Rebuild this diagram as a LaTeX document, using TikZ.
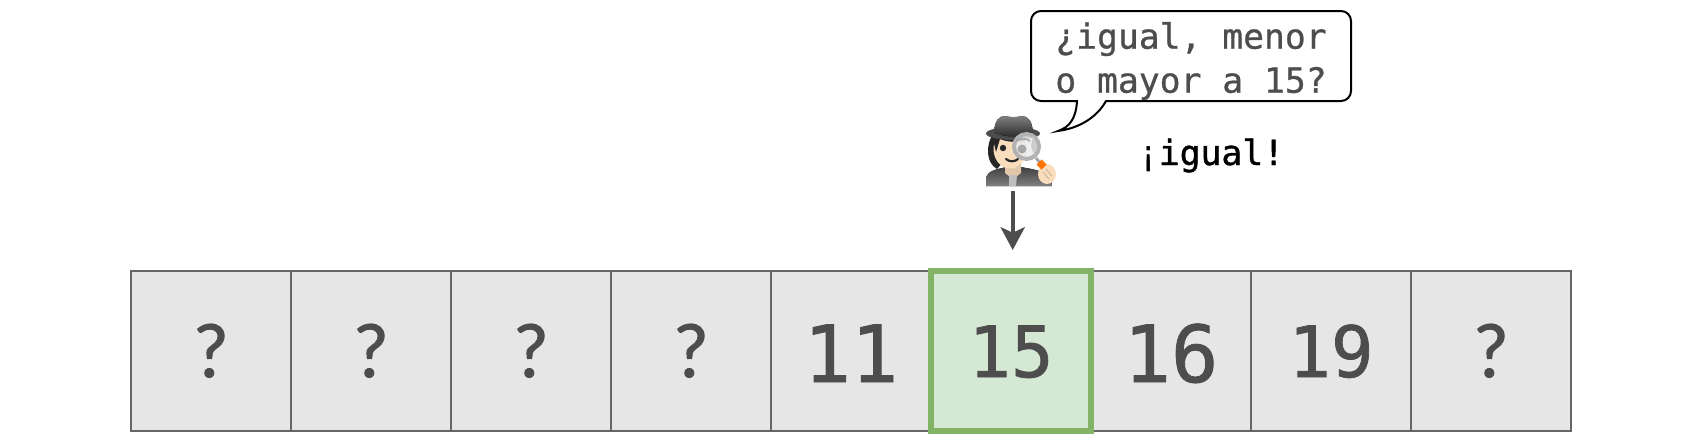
\documentclass[tikz,border=0pt]{standalone}
\usepackage{fontspec}
\setmonofont{DejaVu Sans Mono}
\newfontfamily\heavymono[FakeBold=1.1]{DejaVu Sans Mono}
\newfontfamily\saymono[FakeBold=0.8]{DejaVu Sans Mono}
\newfontfamily\askfont[FakeBold=1.2]{Lato}
\usetikzlibrary{arrows.meta}

\definecolor{inkgray}{RGB}{77,77,77}
\definecolor{skin}{RGB}{249,221,189}
\tikzset{
cellbox/.style={draw={rgb,255:red,102;green,102;blue,102},fill={rgb,255:red,230;green,230;blue,230},line width=1.5pt,
  minimum width=120pt,minimum height=120pt,inner sep=0pt,outer sep=0pt,text=inkgray,
  font=\heavymono\fontsize{53}{53}\selectfont,text height=39pt,text depth=0pt},
askbox/.style={cellbox,font=\askfont\fontsize{55}{55}\selectfont},
bigbox/.style={cellbox,font=\heavymono\fontsize{59}{59}\selectfont,text height=46.5pt},
hitbox/.style={cellbox,draw={rgb,255:red,130;green,179;blue,102},fill={rgb,255:red,213;green,232;blue,212},line width=4.5pt},
saytext/.style={inner sep=0pt,align=left,font=\saymono\fontsize{26}{33}\selectfont},
}
\begin{document}
\begin{tikzpicture}[x=0.75pt,y=0.75pt,yscale=-1,xscale=1]
\useasboundingbox (0,0) rectangle (1702,444);

% Row of cells
\node [askbox] (c1) at (211,351) {?};
\node [askbox] (c2) at (371,351) {?};
\node [askbox] (c3) at (531,351) {?};
\node [askbox] (c4) at (691,351) {?};
\node [bigbox] (c5) at (851,351) {11};
\node [bigbox] (c7) at (1171,351) {16};
\node [cellbox] (c8) at (1331,351) {19};
\node [askbox] (c9) at (1491,351) {?};
\node [hitbox] (c6) at (1011,351) {15};

%Shape: Speech bubble
\draw [line width=1.5pt,fill=white] (1106,101) [rounded corners=7.5pt] -- (1351,101) -- (1351,11) -- (1031,11) -- (1031,101) -- (1060,101) [sharp corners] -- (1077,101) .. controls (1076,118) and (1070,127) .. (1058,131) .. controls (1080,128) and (1097,117) .. (1106,101) -- cycle ;

% Text Node
\node [saytext,text=inkgray] (say) at (1191,61) {¿igual, menor\\o mayor a 15?};
% Text Node
\node [inner sep=0pt,anchor=base,font=\ttfamily\fontsize{26}{26}\selectfont] (answer) at (1211,165) {¡{\heavymono igual!}};

%Shape: Coat
\fill [top color=black!75,bottom color=black!50] (986,186) -- (986,178) .. controls (988,170) and (998,169) .. (1007,167) -- (1021,167) .. controls (1030,169) and (1044,170) .. (1051,178) -- (1052,186) -- cycle ;
%Shape: Shirt
\fill [skin!90!black] (1005,160) -- (1021,160) -- (1021,173) -- (1016,177) -- (1010,177) -- (1005,173) -- cycle ;
\fill [black!25] (1009,175) -- (1017,175) -- (1016,186) -- (1009,186) -- cycle ;
%Shape: Hair
\fill [black!85] (994,132) .. controls (985,145) and (986,163) .. (997,169) -- (1005,160) -- (1005,132) -- cycle ;
%Shape: Face
\fill [skin] (1010,149) ellipse [x radius=16.5,y radius=19.5] ;
\fill [black!85] (992,135) -- (1030,135) -- (1024,141) .. controls (1014,143) and (1004,141) .. (1000,139) -- (996,152) -- cycle ;
%Shape: Eye
\fill [black!85] (1003,148) circle [radius=3.2] ;
%Shape: Mouth
\draw [black!85,line width=1.6pt,line cap=round] (1006,159) .. controls (1009,162) and (1015,162) .. (1018,159) ;
%Shape: Hat
\fill [black!70] (1013,133.5) ellipse [x radius=27,y radius=6.5] ;
\fill [top color=black!50,bottom color=black!85] (994,132) .. controls (995,120) and (999,116) .. (1005,116) .. controls (1011,117.5) and (1016,117.5) .. (1022,116) .. controls (1029,116) and (1032,122) .. (1033,132) .. controls (1022,138) and (1005,138) .. (994,132) -- cycle ;
%Shape: Hand
\fill [skin] (1047,174) ellipse [x radius=9,y radius=10] ;
\draw [skin!80!black,line width=0.6pt] (1046,169) -- (1052,176) (1043,172) -- (1049,179) ;
%Shape: Handle
\draw [black!35,line width=2.2pt] (1036,158) -- (1040,163) ;
\draw [orange!90!red,line width=5.5pt] (1039,162) -- (1044,167) ;
%Shape: Lens
\draw [black!30,fill=black!8,fill opacity=0.85,line width=3pt] (1026.5,146.5) circle [radius=12.5] ;
\fill [black!35] (1022,149) circle [radius=4.5] ;
\draw [black!35,line width=1.2pt] (1016,141) .. controls (1020,138) and (1026,138) .. (1030,141) ;
\fill [black!20] (1033,136) -- (1037,146) -- (1034,155) -- (1031,146) -- cycle ;

% Arrow
\coordinate (spy) at (1012.7,191);
\coordinate (tip) at (1012.7,250);
\draw [-{Stealth[length=17pt,width=18pt,inset=4pt]},draw=inkgray,fill=inkgray,line width=3.2pt] (spy) -- (tip) ;

\end{tikzpicture}
\end{document}
